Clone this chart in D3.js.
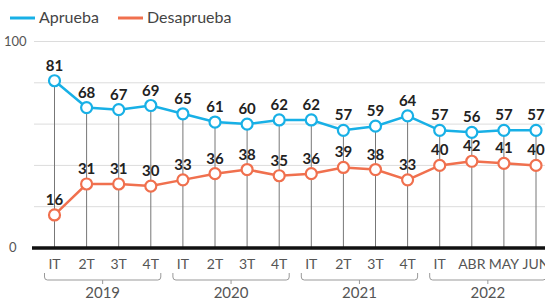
<!DOCTYPE html>
<html>
<head>
<meta charset="utf-8">
<script src="https://cdn.jsdelivr.net/npm/d3@7"></script>
<style>
  body { margin: 0; background: #fff; }
  svg { display: block; font-family: Lato, "Open Sans", sans-serif; -webkit-font-smoothing: antialiased; }
</style>
</head>
<body>
<svg id="chart" width="545" height="301"></svg>
<script>
const periods = ["IT", "2T", "3T", "4T", "IT", "2T", "3T", "4T", "IT", "2T", "3T", "4T", "IT", "ABR", "MAY", "JUN"]
const years = ["2019", "2020", "2021", "2022"]
const yearSpans = [[0, 3], [4, 7], [8, 11], [12, 15]]
const aprueba = [81, 68, 67, 69, 65, 61, 60, 62, 62, 57, 59, 64, 57, 56, 57, 57]
const desaprueba = [16, 31, 31, 30, 33, 36, 38, 35, 36, 39, 38, 33, 40, 42, 41, 40]
const yTicks = [0, 20, 40, 60, 80, 100]

const blue = "#18b0e6"
const orange = "#f0704e"

const svg = d3.select("#chart")
const width = 545

const x = d3.scaleLinear().domain([0, periods.length - 1]).range([54.5, 536])
const y = d3.scaleLinear().domain([0, 100]).range([248, 41.5])

// grid lines
svg.append("g")
  .selectAll("line")
  .data(yTicks.filter(d => d > 0))
  .join("line")
  .attr("x1", 34).attr("x2", width)
  .attr("y1", d => y(d)).attr("y2", d => y(d))
  .attr("stroke", "#dcdcdc")
  .attr("stroke-width", 1)

// y labels (only 0 and 100)
svg.append("g")
  .selectAll("text")
  .data([0, 100])
  .join("text")
  .attr("x", d => d === 0 ? 9 : 4)
  .attr("y", d => y(d) + 4)
  .attr("font-size", 13)
  .attr("fill", "#555")
  .text(d => d)

// vertical drop lines
svg.append("g")
  .selectAll("line")
  .data(aprueba)
  .join("line")
  .attr("x1", (d, i) => x(i)).attr("x2", (d, i) => x(i))
  .attr("y1", d => y(d)).attr("y2", y(0))
  .attr("stroke", "#777")
  .attr("stroke-width", 1)

// baseline
svg.append("line")
  .attr("x1", 32).attr("x2", width)
  .attr("y1", y(0)).attr("y2", y(0))
  .attr("stroke", "#111")
  .attr("stroke-width", 3.5)

const line = d3.line().x((d, i) => x(i)).y(d => y(d))

function drawSeries(values, color) {
  svg.append("path")
    .datum(values)
    .attr("fill", "none")
    .attr("stroke", color)
    .attr("stroke-width", 2.5)
    .attr("d", line)

  svg.append("g")
    .selectAll("circle")
    .data(values)
    .join("circle")
    .attr("cx", (d, i) => x(i))
    .attr("cy", d => y(d))
    .attr("r", 5.5)
    .attr("fill", "#fff")
    .attr("stroke", color)
    .attr("stroke-width", 2.2)

  svg.append("g")
    .selectAll("text")
    .data(values)
    .join("text")
    .attr("x", (d, i) => x(i))
    .attr("y", d => y(d) - 10)
    .attr("text-anchor", "middle")
    .attr("font-size", 15)
    .attr("font-weight", 700)
    .attr("fill", "#222")
    .text(d => d)
}

drawSeries(aprueba, blue)
drawSeries(desaprueba, orange)

// x tick labels
svg.append("g")
  .selectAll("text")
  .data(periods)
  .join("text")
  .attr("x", (d, i) => x(i))
  .attr("y", 269)
  .attr("text-anchor", "middle")
  .attr("font-size", 14)
  .attr("fill", "#555")
  .text(d => d)

// year braces
const braces = svg.append("g")
yearSpans.forEach((s, k) => {
  const x0 = x(s[0]) - 10
  const x1 = Math.min(x(s[1]) + 10, width + 5)
  const mid = (x(s[0]) + x(s[1])) / 2
  const top = 273, bot = 280, r = 3
  braces.append("path")
    .attr("d", `M${x0},${top} V${bot - r} Q${x0},${bot} ${x0 + r},${bot} H${x1 - r} Q${x1},${bot} ${x1},${bot - r} V${top}`)
    .attr("fill", "none")
    .attr("stroke", "#999")
    .attr("stroke-width", 1)
  braces.append("line")
    .attr("x1", mid).attr("x2", mid)
    .attr("y1", bot).attr("y2", bot + 4)
    .attr("stroke", "#999")
  braces.append("text")
    .attr("x", mid)
    .attr("y", 298)
    .attr("text-anchor", "middle")
    .attr("font-size", 15)
    .attr("fill", "#555")
    .text(years[k])
})

// legend
const legend = [["Aprueba", blue, 10], ["Desaprueba", orange, 118]]
legend.forEach(([name, color, lx]) => {
  svg.append("line")
    .attr("x1", lx).attr("x2", lx + 25)
    .attr("y1", 18).attr("y2", 18)
    .attr("stroke", color)
    .attr("stroke-width", 3)
  svg.append("text")
    .attr("x", lx + 29)
    .attr("y", 23)
    .attr("font-size", 16)
    .attr("fill", "#444")
    .text(name)
})
</script>
</body>
</html>
